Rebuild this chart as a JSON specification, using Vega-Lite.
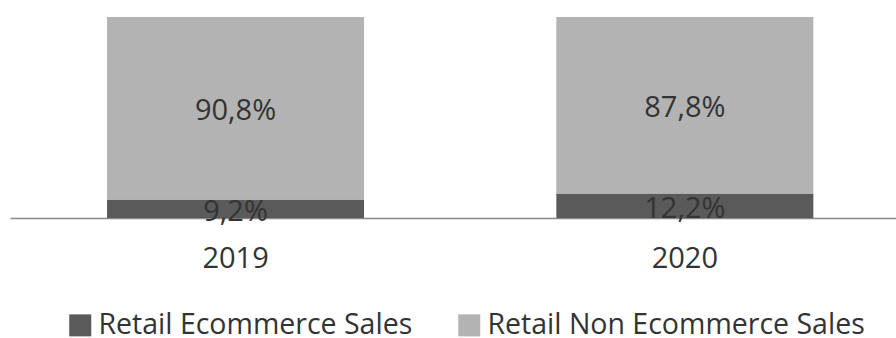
{
  "$schema": "https://vega.github.io/schema/vega-lite/v6.json",
  "width": 886,
  "height": 201,
  "autosize": {"type": "none"},
  "padding": {"left": 10, "top": 17, "right": 0, "bottom": 120},
  "background": "white",
  "config": {
    "view": {"stroke": null},
    "font": "Open Sans",
    "locale": {"number": {"decimal": ",", "thousands": ".", "grouping": [3], "currency": ["", " €"]}}
  },
  "data": {
    "values": [
      {"year": "2019", "type": "Retail Ecommerce Sales", "value": 0.092},
      {"year": "2019", "type": "Retail Non Ecommerce Sales", "value": 0.908},
      {"year": "2020", "type": "Retail Ecommerce Sales", "value": 0.122},
      {"year": "2020", "type": "Retail Non Ecommerce Sales", "value": 0.878}
    ]
  },
  "transform": [
    {"stack": "value", "groupby": ["year"], "sort": [{"field": "type", "order": "ascending"}], "as": ["v0", "v1"]},
    {"calculate": "(datum.v0 + datum.v1) / 2", "as": "mid"}
  ],
  "encoding": {
    "x": {
      "field": "year",
      "type": "nominal",
      "scale": {"paddingInner": 0.428, "paddingOuter": 0.2, "align": 0.54},
      "axis": {
        "title": null,
        "labelAngle": 0,
        "ticks": false,
        "domainColor": "#888888",
        "domainWidth": 1.5,
        "labelFontSize": 29,
        "labelColor": "#333333",
        "labelPadding": 26,
        "labelFont": "Open Sans"
      }
    }
  },
  "layer": [
    {
      "mark": {"type": "bar"},
      "encoding": {
        "y": {"field": "v0", "type": "quantitative", "scale": {"domain": [0, 1]}, "axis": null},
        "y2": {"field": "v1"},
        "color": {
          "field": "type",
          "type": "nominal",
          "scale": {"domain": ["Retail Ecommerce Sales", "Retail Non Ecommerce Sales"], "range": ["#5a5a5a", "#b3b3b3"]},
          "legend": {
            "title": null,
            "orient": "none",
            "direction": "horizontal",
            "legendX": 56,
            "legendY": 294,
            "symbolType": "square",
            "symbolSize": 484,
            "symbolStrokeWidth": 0,
            "symbolOpacity": 1,
            "labelFontSize": 28.5,
            "labelColor": "#333333",
            "labelFont": "Open Sans",
            "labelOffset": 4,
            "columnPadding": 42,
            "labelLimit": 600,
            "padding": 0
          }
        }
      }
    },
    {
      "mark": {"type": "text", "fontSize": 29, "color": "#333333", "font": "Open Sans", "baseline": "middle", "dy": 3},
      "encoding": {
        "y": {"field": "mid", "type": "quantitative", "scale": {"domain": [0, 1]}, "axis": null},
        "text": {"field": "value", "type": "quantitative", "format": ".1%"}
      }
    }
  ]
}
